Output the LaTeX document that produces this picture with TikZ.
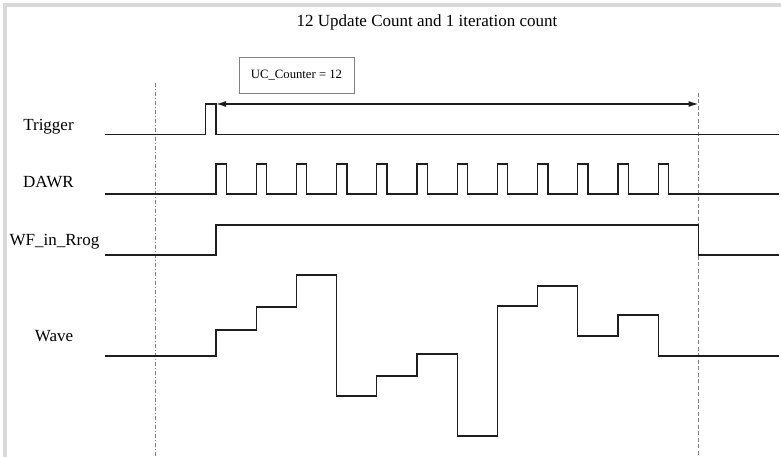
\documentclass[tikz,border=0pt]{standalone}
\usepackage{fontspec}
\setmainfont{Liberation Serif}
\usetikzlibrary{arrows.meta}
\definecolor{sig}{HTML}{1E1E1E}
\definecolor{guide}{HTML}{808080}
\definecolor{frame}{HTML}{D9D9D9}
\tikzset{
  signal/.style={draw=sig, line width=1.3pt, line join=miter},
  guideline/.style={draw=guide, line width=0.8pt},
  lbl/.style={anchor=base, inner sep=0pt, font=\fontsize{17}{20}\selectfont},
  countbox/.style={draw=guide, line width=0.8pt, minimum width=115pt, minimum height=36pt, inner sep=0pt, font=\fontsize{12.7}{15}\selectfont},
  span/.style={draw=sig, line width=1.3pt, {Latex[length=10pt,width=6pt]}-{Latex[length=10pt,width=6pt]}}
}
\begin{document}
\begin{tikzpicture}[x=1pt,y=-1pt]
\useasboundingbox (0,0) rectangle (781,457);
\fill[white] (0,0) rectangle (781,457);
% frame
\draw[frame, line width=4pt] (4.7,457) -- (4.7,4.7) -- (781,4.7);
% title
\node[lbl] (title) at (427,26.7) {12 Update Count and 1 iteration count};
% counter box
\node[countbox] (uc) at (296.5,75) {UC\_Counter = 12};
% guide lines
\coordinate (gl1) at (155.3,83);
\coordinate (gl2) at (155.3,457);
\coordinate (gr1) at (698.5,93);
\coordinate (gr2) at (698.5,457);
\draw[guideline, dash pattern=on 4pt off 2pt on 1pt off 2pt] (gl1) -- (gl2);
\draw[guideline, dash pattern=on 4pt off 2.5pt] (gr1) -- (gr2);
% labels
\node[lbl] (trig) at (48.5,130.7) {Trigger};
\node[lbl] (dawr) at (48.5,187.3) {DAWR};
\node[lbl] (wf) at (54.5,245.7) {WF\_in\_Rrog};
\node[lbl] (wave) at (54,341.7) {Wave};
% span arrow
\coordinate (arrL) at (216,104);
\coordinate (arrR) at (698.5,104);
\draw[span] (arrL) -- (arrR);
% Trigger
\draw[signal] (105,134.3) -- (205.7,134.3) -- (205.7,104) -- (216,104) -- (216,134.3) -- (779,134.3);
% DAWR
\draw[signal] (105,194) \foreach \k in {0,...,11} { -- ({216+40.2*\k},194) -- ++(0,-30) -- ++(10.3,0) -- ++(0,30) } -- (779,194);
% WF_in_Rrog
\draw[signal] (105,255) -- (216,255) -- (216,225) -- (698.5,225) -- (698.5,255) -- (779,255);
% Wave
\draw[signal] (105,356) -- (216,356) -- (216,330) -- (256.2,330) -- (256.2,307) -- (296.4,307) -- (296.4,275) -- (336.6,275) -- (336.6,396) -- (376.8,396) -- (376.8,376) -- (417,376) -- (417,354) -- (457.2,354) -- (457.2,436) -- (497.4,436) -- (497.4,306) -- (537.6,306) -- (537.6,286) -- (577.8,286) -- (577.8,336) -- (618,336) -- (618,315) -- (658.2,315) -- (658.2,356) -- (779,356);
\end{tikzpicture}
\end{document}
